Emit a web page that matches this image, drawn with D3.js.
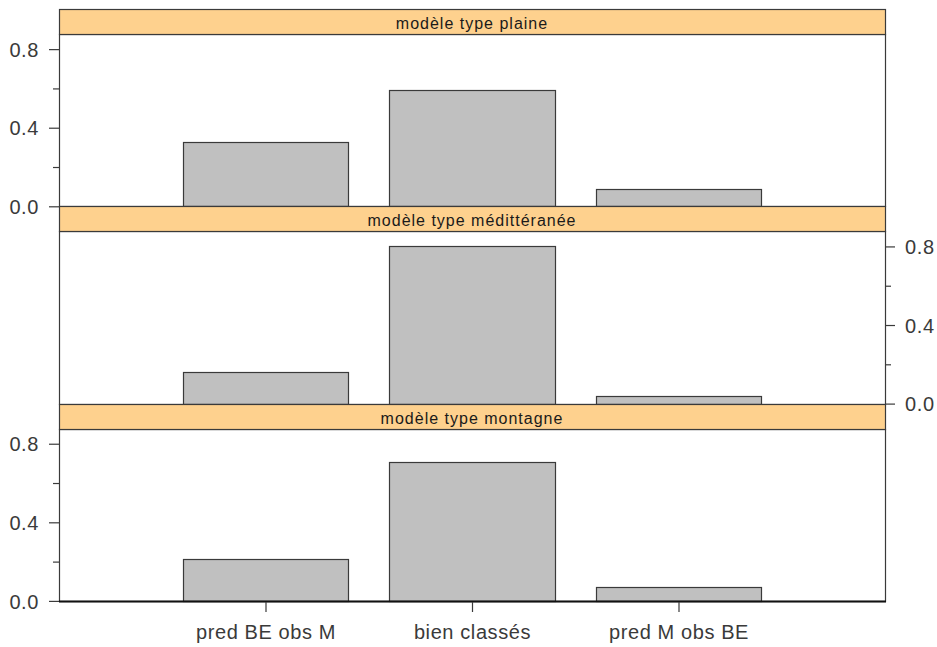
<!DOCTYPE html>
<html>
<head>
<meta charset="utf-8">
<script src="https://cdn.jsdelivr.net/npm/d3@7"></script>
<style>
  html, body { margin: 0; padding: 0; background: #ffffff; }
  svg { display: block; }
</style>
</head>
<body>
<svg id="chart" width="937" height="647"></svg>
<script>
// ---- data ----
const categories = ["pred BE obs M", "bien classés", "pred M obs BE"];
const panelNames = ["modèle type plaine", "modèle type médittéranée", "modèle type montagne"];
const plaineValues = [0.327, 0.591, 0.088];
const mediterraneeValues = [0.163, 0.803, 0.037];
const montagneValues = [0.215, 0.707, 0.071];
const yTickValues = [0, 0.2, 0.4, 0.6, 0.8];
const yTickLabels = ["0.0", "", "0.4", "", "0.8"];

const panels = [
  { name: panelNames[0], values: plaineValues, axis: "left" },
  { name: panelNames[1], values: mediterraneeValues, axis: "right" },
  { name: panelNames[2], values: montagneValues, axis: "left" }
];

// ---- layout ----
const left = 59, right = 885;
const top0 = 9;
const stripH = 25;
const plotH = 172.3;
const panelH = stripH + plotH;
const stroke = "#3a3a3a";
const stripFill = "#FED18E";
const barFill = "#C0C0C0";
const font = "'Liberation Sans', Arial, sans-serif";

const svg = d3.select("#chart");

const x = d3.scaleLinear().domain([0, 4]).range([left, right]);
const barHalf = 0.4;

panels.forEach((p, i) => {
  const stripTop = top0 + i * panelH;
  const plotTop = stripTop + stripH;
  const plotBottom = plotTop + plotH;
  const y = d3.scaleLinear().domain([0, 0.877]).range([plotBottom, plotTop]);
  const g = svg.append("g");

  // bars
  g.selectAll("rect.bar")
    .data(p.values)
    .enter().append("rect")
    .attr("class", "bar")
    .attr("x", (d, j) => Math.round(x(j + 1 - barHalf)) + 0.5)
    .attr("width", (d, j) => Math.round(x(j + 1 + barHalf)) - Math.round(x(j + 1 - barHalf)))
    .attr("y", d => Math.round(y(d)) + 0.5)
    .attr("height", d => Math.round(y(0)) - Math.round(y(d)))
    .attr("fill", barFill)
    .attr("stroke", stroke)
    .attr("stroke-width", 1.2);

  // panel border
  g.append("rect")
    .attr("x", left + 0.5)
    .attr("y", Math.round(plotTop) + 0.5)
    .attr("width", right - left)
    .attr("height", Math.round(plotBottom) - Math.round(plotTop))
    .attr("fill", "none")
    .attr("stroke", stroke)
    .attr("stroke-width", 1.2);

  // strip
  g.append("rect")
    .attr("x", left + 0.5)
    .attr("y", Math.round(stripTop) + 0.5)
    .attr("width", right - left)
    .attr("height", Math.round(plotTop) - Math.round(stripTop))
    .attr("fill", stripFill)
    .attr("stroke", stroke)
    .attr("stroke-width", 1.2);

  g.append("text")
    .attr("x", (left + right) / 2)
    .attr("y", stripTop + 20)
    .attr("text-anchor", "middle")
    .attr("font-family", font)
    .attr("font-size", 16)
    .attr("letter-spacing", 1)
    .attr("fill", "#1a1a1a")
    .text(p.name);

  // y axis
  const isLeft = p.axis === "left";
  const axis = (isLeft ? d3.axisLeft(y) : d3.axisRight(y))
    .tickValues(yTickValues)
    .tickFormat((d, k) => yTickLabels[k])
    .tickSize(0)
    .tickPadding(0);
  const ag = g.append("g")
    .attr("transform", `translate(${isLeft ? left : right},0)`)
    .call(axis);
  ag.select(".domain").remove();
  ag.selectAll(".tick line")
    .attr("x2", (d, k) => (isLeft ? -1 : 1) * (yTickLabels[k] ? 10 : 6))
    .attr("stroke", stroke)
    .attr("stroke-width", 1.2);
  ag.selectAll(".tick text")
    .attr("x", isLeft ? -20 : 20)
    .attr("dy", "0.36em")
    .attr("font-family", font)
    .attr("font-size", 20)
    .attr("letter-spacing", 0.6)
    .attr("fill", "#3a3a3a");

  // bottom axis on last panel
  if (i === panels.length - 1) {
    g.append("line")
      .attr("x1", left).attr("x2", right + 1)
      .attr("y1", Math.round(plotBottom) + 0.5).attr("y2", Math.round(plotBottom) + 0.5)
      .attr("stroke", "#111").attr("stroke-width", 2);
    const xb = d3.axisBottom(x)
      .tickValues([1, 2, 3])
      .tickFormat(d => categories[d - 1])
      .tickSize(10)
      .tickPadding(13);
    const bg = g.append("g")
      .attr("transform", `translate(0,${Math.round(plotBottom) + 1})`)
      .call(xb);
    bg.select(".domain").remove();
    bg.selectAll(".tick line").attr("stroke", stroke).attr("stroke-width", 1.2);
    bg.selectAll(".tick text")
      .attr("font-family", font)
      .attr("font-size", 20)
      .attr("letter-spacing", 0.6)
      .attr("fill", "#3a3a3a");
  }
});
</script>
</body>
</html>
